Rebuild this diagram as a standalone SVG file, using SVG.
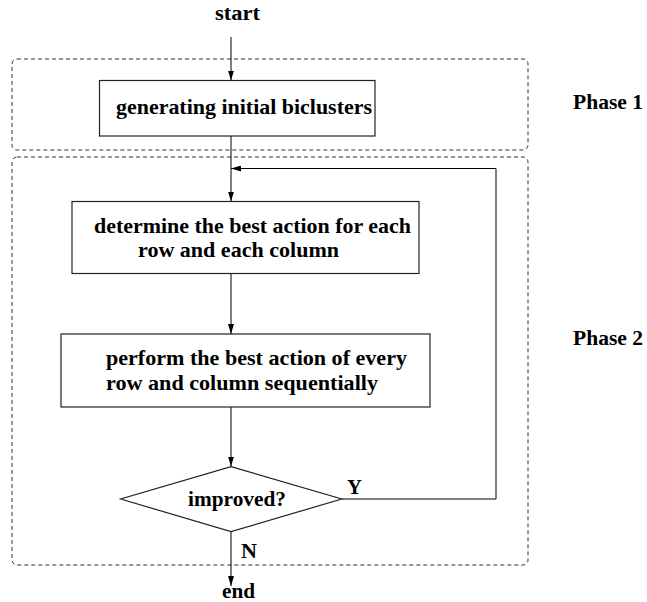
<svg xmlns="http://www.w3.org/2000/svg" width="647" height="602" viewBox="0 0 647 602" font-family="'Liberation Serif', 'DejaVu Serif', serif">
<style>
text{font-family:"Liberation Serif","DejaVu Serif",serif;font-weight:bold;font-size:21px;fill:#000}
.box{fill:#fff;stroke:#222;stroke-width:1.2}
.phase{fill:none;stroke:#333;stroke-width:1;stroke-dasharray:4,3}
.edge{fill:none;stroke:#000;stroke-width:1}
</style>
<defs>
<marker id="arr" viewBox="0 0 10 6" refX="10" refY="3" markerWidth="10" markerHeight="6" markerUnits="userSpaceOnUse" orient="auto">
<path d="M0,0 L10,3 L0,6 Z" fill="#000"/>
</marker>
</defs>
<g id="phase1"><rect class="phase" x="12" y="59" width="516" height="91" rx="5"/><text x="573" y="109" textLength="70" lengthAdjust="spacingAndGlyphs">Phase 1</text></g>
<g id="phase2"><rect class="phase" x="12" y="157" width="516" height="408" rx="5"/><text x="573" y="345" textLength="70" lengthAdjust="spacingAndGlyphs">Phase 2</text></g>
<g id="connectors">
<path class="edge" d="M231,37 V80.5" marker-end="url(#arr)"/>
<path class="edge" d="M231,136 V201.5" marker-end="url(#arr)"/>
<path class="edge" d="M231,273.5 V334" marker-end="url(#arr)"/>
<path class="edge" d="M231,407 V466.5" marker-end="url(#arr)"/>
<path class="edge" d="M231,532 V586" marker-end="url(#arr)"/>
<path class="edge" d="M341.7,499 H496 V168.5 H231" marker-end="url(#arr)"/>
<text x="347" y="494" textLength="15" lengthAdjust="spacingAndGlyphs">Y</text>
<text x="241" y="558" textLength="16" lengthAdjust="spacingAndGlyphs">N</text>
</g>
<g id="start"><text x="215" y="20" textLength="45" lengthAdjust="spacingAndGlyphs">start</text></g>
<g id="generate"><rect class="box" x="99.5" y="80.5" width="275.5" height="55.5"/><text x="116" y="114" textLength="256" lengthAdjust="spacingAndGlyphs">generating initial biclusters</text></g>
<g id="determine"><rect class="box" x="72" y="201.5" width="347" height="72"/><text x="94" y="233" textLength="317" lengthAdjust="spacingAndGlyphs">determine the best action for each</text><text x="138" y="257" textLength="201" lengthAdjust="spacingAndGlyphs">row and each column</text></g>
<g id="perform"><rect class="box" x="61" y="334" width="369" height="73"/><text x="106" y="365" textLength="301" lengthAdjust="spacingAndGlyphs">perform the best action of every</text><text x="106" y="390" textLength="272" lengthAdjust="spacingAndGlyphs">row and column sequentially</text></g>
<g id="improved"><path class="box" d="M231,466.7 L341.7,499 L231,531.7 L120.7,499 Z"/><text x="188" y="506" textLength="98" lengthAdjust="spacingAndGlyphs">improved?</text></g>
<g id="end"><text x="222" y="598" textLength="33" lengthAdjust="spacingAndGlyphs">end</text></g>
</svg>
